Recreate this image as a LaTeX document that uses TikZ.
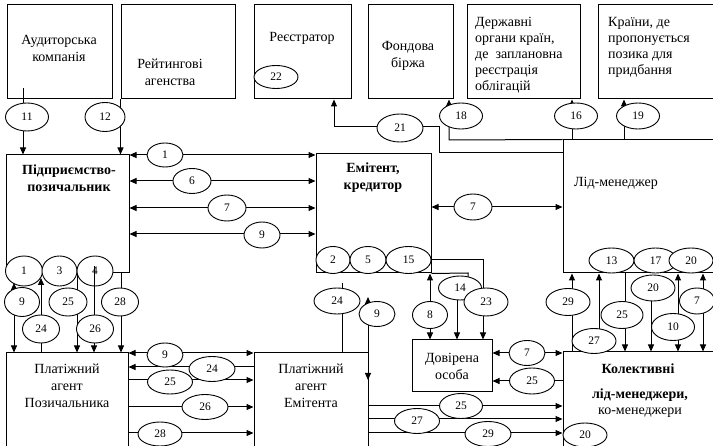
\documentclass[tikz,border=0pt]{standalone}
\usepackage{fontspec}
\setmainfont{Liberation Serif}
\usetikzlibrary{arrows.meta,shapes.geometric}

\begin{document}
\begin{tikzpicture}[x=1pt,y=-1pt,
  box/.style={draw, line width=1pt, inner sep=0pt},
  txt/.style={font=\fontsize{14}{17}\selectfont, align=center, inner sep=0pt},
  txtb/.style={txt, font=\fontsize{14}{17}\selectfont\bfseries},
  txtl/.style={font=\fontsize{14}{16}\selectfont, align=left, inner sep=0pt, anchor=north west},
  oval/.style={draw, ellipse, fill=white, line width=0.9pt, minimum width=44pt,
    minimum height=26pt, inner sep=0pt, font=\fontsize{11.5}{12}\selectfont},
  ln/.style={line width=1pt},
  arr/.style={ln, -{Triangle[length=7pt,width=6pt]}},
  dbl/.style={ln, {Triangle[length=7pt,width=6pt]}-{Triangle[length=7pt,width=6pt]}},
]
\useasboundingbox (0,0) rectangle (713,446);

% ---------- participants ----------
\node[box, minimum width=105pt, minimum height=94pt]  (aud)  at (59.5,52) {};
\node[box, minimum width=114pt, minimum height=94pt]  (rat)  at (178,52) {};
\node[box, minimum width=97pt,  minimum height=94pt]  (reg)  at (302.5,52) {};
\node[box, minimum width=85pt,  minimum height=94pt]  (fond) at (410.5,52) {};
\node[box, minimum width=113pt, minimum height=94pt]  (derz) at (523.5,52) {};
\node[box, minimum width=118pt, minimum height=94pt]  (kr)   at (657,52) {};
\node[box, minimum width=123pt, minimum height=118pt] (ppz)  at (67.5,214) {};
\node[box, minimum width=115pt, minimum height=119pt] (emt)  at (373.5,213.5) {};
\node[box, minimum width=153pt, minimum height=133pt] (lid)  at (639.5,206.5) {};
\node[box, minimum width=122pt, minimum height=97pt]  (pap)  at (67,401.5) {};
\node[box, minimum width=114pt, minimum height=97pt]  (pae)  at (311,401.5) {};
\node[box, minimum width=80pt,  minimum height=52pt]  (dov)  at (452,366) {};
\node[box, minimum width=153pt, minimum height=98pt]  (kol)  at (639.5,401) {};

% ---------- texts ----------
\node[txt]  (aud-t)  at (59,48.5) {Аудиторська\\компанія};
\node[txt]  (rat-t)  at (170,72) {Рейтингові\\агенства};
\node[txt]  (reg-t)  at (302,38) {Реєстратор};
\node[txt]  (fond-t) at (408,56) {Фондова\\біржа};
\node[txtl] (derz-t) at (475,17) {Державні\\органи країн,\\де~~заплановна\\реєстрація\\облігацій};
\node[txtl] (kr-t)   at (608,17) {Країни, де\\пропонується\\позика для\\придбання};
\node[txtb] (ppz-t)  at (69,178.5) {Підприємство-\\позичальник};
\node[txtb] (emt-t)  at (373,177.5) {Емітент,\\кредитор};
\node[txt, anchor=west] (lid-t) at (574,183) {Лід-менеджер};
\node[txt]  (dov-t)  at (452,366) {Довірена\\особа};
\node[txt]  (pap-t)  at (67,386) {Платіжний\\агент\\Позичальника};
\node[txt]  (pae-t)  at (311,386) {Платіжний\\агент\\Емітента};
\node[txtb] (kol-t1) at (638,369) {Колективні};
\node[txtb] (kol-t2) at (640,395) {лід-менеджери,};
\node[txt]  (kol-t3) at (640,413) {ко-менеджери};

% ---------- numbered marks along box edges ----------
\node[oval, minimum width=37pt, minimum height=30pt] (b1) at (24,271) {1};
\node[oval, minimum width=35pt, minimum height=30pt] (b3) at (59.5,271) {3};
\node[oval, minimum width=36pt, minimum height=30pt] (b4) at (95,271) {4};
\node[oval, minimum width=34pt, minimum height=27pt] (e2) at (333,260) {2};
\node[oval, minimum width=36pt, minimum height=27pt] (e5) at (368,260) {5};
\node[oval, minimum width=45pt, minimum height=27pt] (e15) at (408.5,260) {15};
\node[oval, minimum width=45pt, minimum height=25pt] (m13) at (611.5,260.5) {13};
\node[oval, minimum width=43pt, minimum height=25pt] (m17) at (655.5,260.5) {17};
\node[oval, minimum width=44pt, minimum height=25pt] (m20) at (691,260.5) {20};
\node[oval, minimum width=44pt, minimum height=24pt] (k20) at (585,435) {20};
\node[oval, minimum width=44pt, minimum height=23pt] (r22) at (276,77) {22};

% ---------- connectors ----------
\draw[arr] (aud.south -| 23,0) ++(0,-11) -- (ppz.north -| 23,0);
\draw[arr] (rat.south west) -- (rat.south west |- ppz.north);
\foreach \y in {155,181,208,234}
  \draw[dbl] (ppz.east |- 0,\y) -- (emt.west |- 0,\y);
\draw[dbl] (emt.east |- 0,207) -- (lid.west |- 0,207);
\draw[arr] (lid.west |- 0,153) -- (439,153) -- (439,127) -- (334,127) -- (reg.south -| 334,0);
\draw[arr] (lid.north west) -- (449,140) -- (fond.south -| 449,0);
\draw[arr] (lid.north -| 572,0) -- (derz.south -| 572,0);
\draw[arr] (lid.north -| 624,0) -- (kr.south -| 624,0);

\draw[dbl] (14,283) -- (pap.north -| 14,0);
\draw[arr] (pap.north -| 41,0) -- (41,278);
\draw[arr] (77,275) -- (pap.north -| 77,0);
\draw[arr] (94,266) -- (pap.north -| 94,0);
\draw[arr] (ppz.south -| 121,0) -- (pap.north -| 121,0);

\draw[dbl] (pap.east |- 0,353) -- (pae.west |- 0,353);
\draw[arr] (pae.west |- 0,367) -- (pap.east |- 0,367);
\foreach \y in {380,407,433}
  \draw[arr] (pap.east |- 0,\y) -- (pae.west |- 0,\y);

\draw[ln] (pae.north -| 342,0) -- (342,283);
\draw[dbl] (368,297) -- (368,380);

\draw[dbl] (emt.south -| 430,0) -- (dov.north -| 430,0);
\draw[ln] (emt.south east) -- (468,273) -- (468,280);
\draw[arr] (457,290) -- (dov.north -| 457,0);
\draw[arr] (emt.east |- 0,260) -- (483,260) -- (dov.north -| 483,0);

\draw[dbl] (dov.east |- 0,353) -- (kol.west |- 0,353);
\draw[arr] (kol.west |- 0,381) -- (dov.east |- 0,381);
\foreach \y in {406,419,433}
  \draw[arr] (pae.east |- 0,\y) -- (kol.west |- 0,\y);

\draw[arr] (kol.north -| 572,0) -- (lid.south -| 572,0);
\draw[arr] (kol.north -| 599,0) -- (lid.south -| 599,0);
\draw[arr] (lid.south -| 625,0) -- (kol.north -| 625,0);
\draw[arr] (651,290) -- (kol.north -| 651,0);
\draw[dbl] (lid.south -| 678,0) -- (kol.north -| 678,0);
\draw[dbl] (lid.south -| 703,0) -- (kol.north -| 703,0);

% ---------- numbered labels on the connectors ----------
\node[oval, minimum width=43pt, minimum height=28pt] (n11) at (27,117) {11};
\node[oval, minimum width=40pt, minimum height=29pt] (n12) at (105,117) {12};
\node[oval, minimum width=46pt, minimum height=28pt] (n21) at (400,128) {21};
\node[oval, minimum width=43pt, minimum height=26pt] (n18) at (461,116) {18};
\node[oval, minimum width=43pt, minimum height=26pt] (n16) at (576,116) {16};
\node[oval, minimum width=43pt, minimum height=26pt] (n19) at (638,116) {19};

\node[oval, minimum width=36pt, minimum height=24pt] (n1)  at (165,155) {1};
\node[oval, minimum width=38pt, minimum height=25pt] (n6)  at (192,181) {6};
\node[oval, minimum width=38pt, minimum height=26pt] (n7a) at (227,208) {7};
\node[oval, minimum width=36pt, minimum height=26pt] (n9a) at (262,235) {9};
\node[oval, minimum width=38pt, minimum height=26pt] (n7b) at (473,207) {7};

\node[oval, minimum width=35pt, minimum height=29pt] (n9b)  at (22,302) {9};
\node[oval, minimum width=37pt, minimum height=28pt] (n24a) at (41,329) {24};
\node[oval, minimum width=38pt, minimum height=28pt] (n25a) at (68,302) {25};
\node[oval, minimum width=37pt, minimum height=28pt] (n26a) at (95,329) {26};
\node[oval, minimum width=37pt, minimum height=28pt] (n28a) at (120,302) {28};

\node[oval, minimum width=36pt, minimum height=24pt] (n9c)  at (165,355) {9};
\node[oval, minimum width=46pt, minimum height=25pt] (n24b) at (212,369) {24};
\node[oval, minimum width=45pt, minimum height=24pt] (n25b) at (170,382) {25};
\node[oval, minimum width=46pt, minimum height=25pt] (n26b) at (205,407) {26};
\node[oval, minimum width=44pt, minimum height=24pt] (n28b) at (160,434) {28};

\node[oval, minimum width=46pt, minimum height=26pt] (n24c) at (337,301) {24};
\node[oval, minimum width=36pt, minimum height=25pt] (n9d)  at (377,314) {9};

\node[oval, minimum width=35pt, minimum height=27pt] (n8)  at (430,315) {8};
\node[oval, minimum width=43pt, minimum height=24pt] (n14) at (460,288) {14};
\node[oval, minimum width=44pt, minimum height=28pt] (n23) at (486,302) {23};

\node[oval, minimum width=36pt, minimum height=25pt] (n7c)  at (527,353) {7};
\node[oval, minimum width=45pt, minimum height=26pt] (n25c) at (532,381) {25};

\node[oval, minimum width=43pt, minimum height=25pt] (n25d) at (461,406) {25};
\node[oval, minimum width=45pt, minimum height=25pt] (n27a) at (417,421) {27};
\node[oval, minimum width=46pt, minimum height=25pt] (n29a) at (488,434) {29};

\node[oval, minimum width=44pt, minimum height=27pt] (n29b) at (568,302) {29};
\node[oval, minimum width=44pt, minimum height=25pt] (n27b) at (594,341) {27};
\node[oval, minimum width=42pt, minimum height=27pt] (n25e) at (622,315) {25};
\node[oval, minimum width=44pt, minimum height=26pt] (n20)  at (653,288) {20};
\node[oval, minimum width=43pt, minimum height=27pt] (n10)  at (673,327) {10};
\node[oval, minimum width=35pt, minimum height=26pt] (n7d)  at (697,301) {7};
\end{tikzpicture}
\end{document}
